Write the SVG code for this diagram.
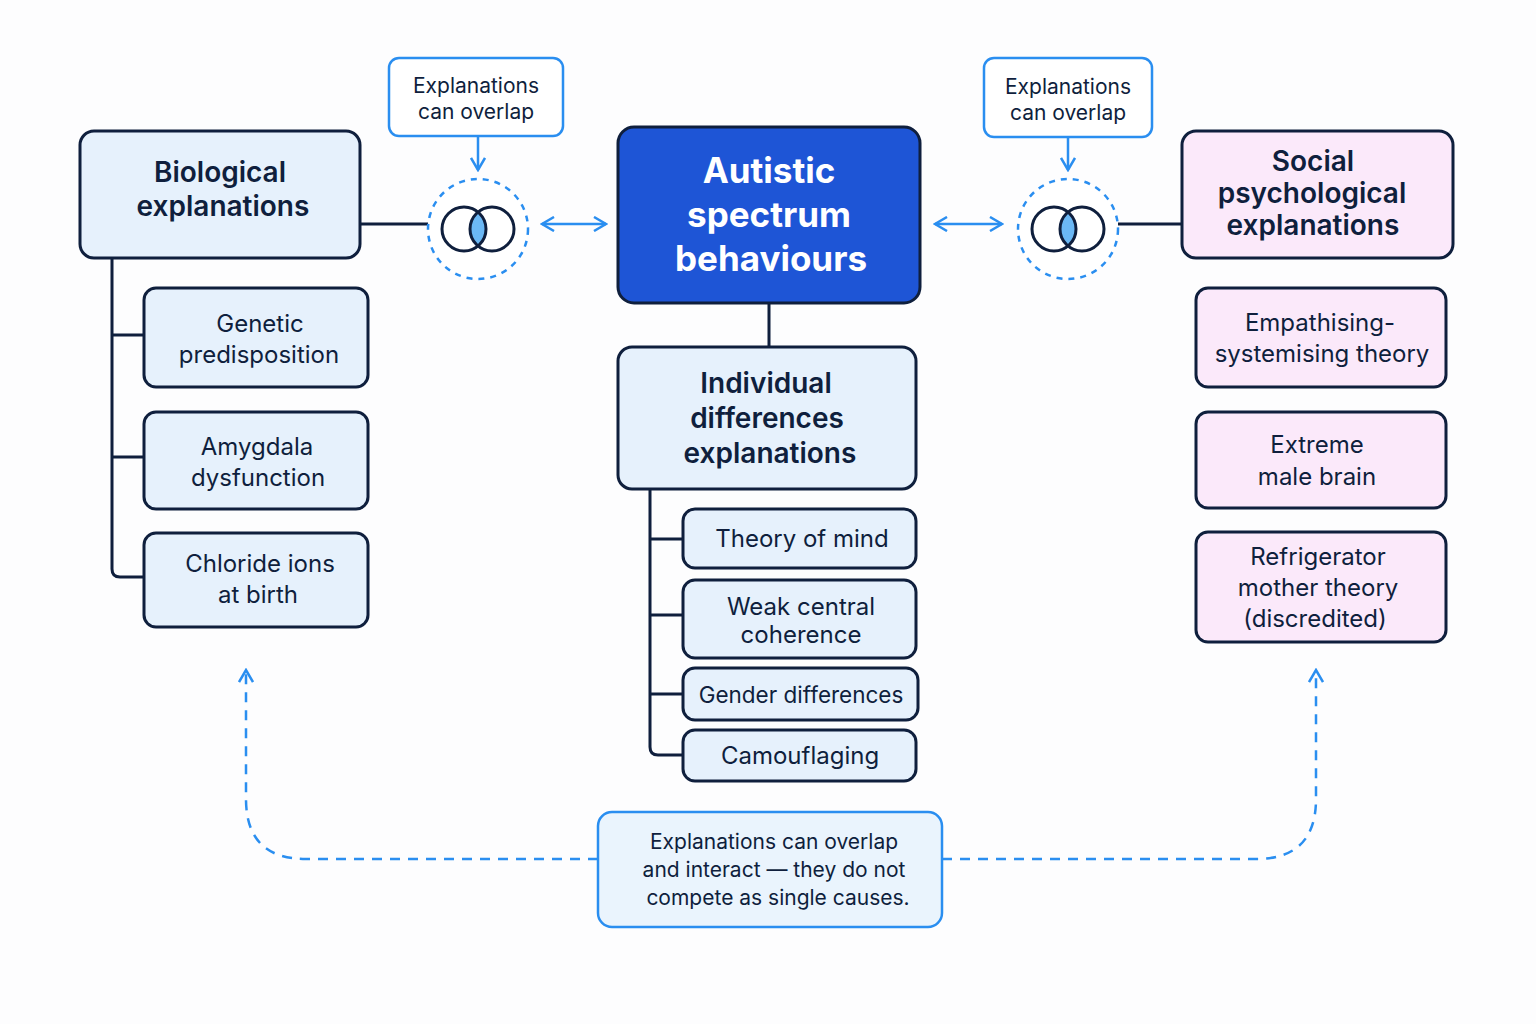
<svg xmlns="http://www.w3.org/2000/svg" width="1536" height="1024" viewBox="0 0 1536 1024">
<defs>
<style>
text{font-family:Inter,"Noto Sans",sans-serif;text-anchor:middle;fill:#0f1f3d}
.bio{fill:#e6f1fc;stroke:#0f1f3d;stroke-width:3}
.soc{fill:#fbe9fa;stroke:#0f1f3d;stroke-width:3}
.h{font-size:28px;font-weight:600}
.c{font-size:24px}
.note{fill:#fff;stroke:#2a8ef0;stroke-width:2.5}
.nt{font-size:21px}
.tree{fill:none;stroke:#0f1f3d;stroke-width:3}
.blue{fill:none;stroke:#2a8ef0;stroke-width:2.5}
.dash{fill:none;stroke:#2a8ef0;stroke-width:2.5;stroke-dasharray:10 8}
</style>
<marker id="ah" viewBox="0 0 16 16" refX="14" refY="8" markerWidth="16" markerHeight="16" markerUnits="userSpaceOnUse" orient="auto-start-reverse"><path d="M2,1 L14,8 L2,15" fill="none" stroke="#2a8ef0" stroke-width="2.5"/></marker>
<symbol id="venn" overflow="visible">
<circle cx="0" cy="0" r="50" fill="#fff" stroke="#2a8ef0" stroke-width="2.5" stroke-dasharray="6 6"/>
<path d="M14,-17.3 A22,22 0 0 1 14,17.3 A22,22 0 0 1 14,-17.3Z" fill="#6bb8f5" transform="translate(-14,0)"/>
<circle cx="-14" cy="0" r="22" fill="none" stroke="#0f1f3d" stroke-width="3"/>
<circle cx="14" cy="0" r="22" fill="none" stroke="#0f1f3d" stroke-width="3"/>
</symbol>
</defs>
<rect width="1536" height="1024" fill="#fdfdfe"/>
<g id="connectors">
<path class="tree" d="M112,258 V569 Q112,577 120,577 H144 M112,335 H144 M112,457 H144"/>
<path class="tree" d="M650,489 V747 Q650,755 658,755 H683 M650,539 H683 M650,615 H683 M650,694 H683"/>
<path class="tree" d="M769,303 V347 M360,224 H428 M1118,224 H1182"/>
<path class="blue" d="M542,224 H606" marker-start="url(#ah)" marker-end="url(#ah)"/>
<path class="blue" d="M935,224 H1002" marker-start="url(#ah)" marker-end="url(#ah)"/>
<path class="blue" d="M478,137 V170" marker-end="url(#ah)"/>
<path class="blue" d="M1068,138 V170" marker-end="url(#ah)"/>
<path class="dash" d="M598,859 H306 Q246,859 246,799 V670" marker-end="url(#ah)"/>
<path class="dash" d="M942,859 H1256 Q1316,859 1316,799 V670" marker-end="url(#ah)"/>
</g>
<g id="venn-left"><use href="#venn" x="478" y="229"/></g>
<g id="venn-right"><use href="#venn" x="1068" y="229"/></g>
<g id="note-left"><rect class="note" x="389" y="58" width="174" height="78" rx="10"/><text class="nt" x="476" y="93">Explanations</text><text class="nt" x="476" y="119">can overlap</text></g>
<g id="note-right"><rect class="note" x="984" y="58" width="168" height="79" rx="10"/><text class="nt" x="1068" y="94">Explanations</text><text class="nt" x="1068" y="120">can overlap</text></g>
<g id="center"><rect x="618" y="127" width="302" height="176" rx="16" fill="#1e55d6" stroke="#0f1f3d" stroke-width="3"/><text x="769" y="183" style="font-size:35px;font-weight:700;fill:#fff">Autistic</text><text x="769" y="227" style="font-size:35px;font-weight:700;fill:#fff">spectrum</text><text x="771" y="271" style="font-size:35px;font-weight:700;fill:#fff">behaviours</text></g>
<g id="bio"><rect class="bio" x="80" y="131" width="280" height="127" rx="14"/><text class="h" x="220" y="182">Biological</text><text class="h" x="223" y="216">explanations</text></g>
<g id="genetic"><rect class="bio" x="144" y="288" width="224" height="99" rx="12"/><text class="c" x="260" y="332">Genetic</text><text class="c" x="259" y="363">predisposition</text></g>
<g id="amygdala"><rect class="bio" x="144" y="412" width="224" height="97" rx="12"/><text class="c" x="257" y="455">Amygdala</text><text class="c" x="258" y="486">dysfunction</text></g>
<g id="chloride"><rect class="bio" x="144" y="533" width="224" height="94" rx="12"/><text class="c" x="260" y="572">Chloride ions</text><text class="c" x="258" y="603">at birth</text></g>
<g id="individual"><rect class="bio" x="618" y="347" width="298" height="142" rx="14"/><text class="h" x="766" y="393">Individual</text><text class="h" x="767" y="428">differences</text><text class="h" x="770" y="463">explanations</text></g>
<g id="tom"><rect class="bio" x="683" y="509" width="233" height="59" rx="12"/><text class="c" x="802" y="547">Theory of mind</text></g>
<g id="wcc"><rect class="bio" x="683" y="580" width="233" height="78" rx="12"/><text class="c" x="801" y="615">Weak central</text><text class="c" x="801" y="643">coherence</text></g>
<g id="gender"><rect class="bio" x="683" y="668" width="235" height="52" rx="12"/><text class="c" x="801" y="703" style="font-size:22.5px">Gender differences</text></g>
<g id="camo"><rect class="bio" x="683" y="730" width="233" height="51" rx="12"/><text class="c" x="800" y="764">Camouflaging</text></g>
<g id="social"><rect class="soc" x="1182" y="131" width="271" height="127" rx="14"/><text class="h" x="1313" y="171">Social</text><text class="h" x="1312" y="203">psychological</text><text class="h" x="1313" y="235">explanations</text></g>
<g id="empath"><rect class="soc" x="1196" y="288" width="250" height="99" rx="12"/><text class="c" x="1320" y="331">Empathising-</text><text class="c" x="1322" y="362">systemising theory</text></g>
<g id="emb"><rect class="soc" x="1196" y="412" width="250" height="96" rx="12"/><text class="c" x="1317" y="453">Extreme</text><text class="c" x="1317" y="485">male brain</text></g>
<g id="fridge"><rect class="soc" x="1196" y="532" width="250" height="110" rx="12"/><text class="c" x="1318" y="565">Refrigerator</text><text class="c" x="1318" y="596">mother theory</text><text class="c" x="1315" y="627">(discredited)</text></g>
<g id="bottom"><rect x="598" y="812" width="344" height="115" rx="14" fill="#eaf4fd" stroke="#2a8ef0" stroke-width="2.5"/><text class="nt" x="774" y="849">Explanations can overlap</text><text class="nt" x="774" y="877">and interact — they do not</text><text class="nt" x="778" y="905">compete as single causes.</text></g>
</svg>
